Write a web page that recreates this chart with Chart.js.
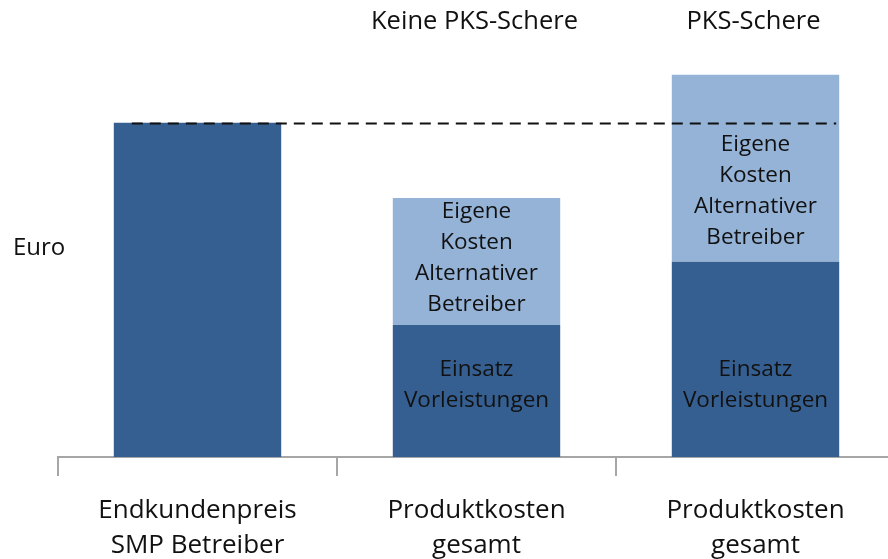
<!DOCTYPE html>
<html>
<head>
<meta charset="utf-8">
<script src="https://cdn.jsdelivr.net/npm/chart.js@4/dist/chart.umd.min.js"></script>
<style>
  html, body { margin: 0; padding: 0; background: #fff; overflow: hidden; }
  #wrap { width: 888px; height: 559px; overflow: hidden; }
</style>
</head>
<body>
<div id="wrap"><canvas id="ctx" width="900" height="559"></canvas></div>
<script>
const categories = [
  ['Endkundenpreis', 'SMP Betreiber'],
  ['Produktkosten', 'gesamt'],
  ['Produktkosten', 'gesamt'],
];
const columnTitles = ['', 'Keine PKS-Schere', 'PKS-Schere'];
const vorleistungen = [100, 39.5, 58.4];
const eigeneKosten = [0, 38.0, 56.0];
const vorleistungenText = ['', 'Einsatz\nVorleistungen', 'Einsatz\nVorleistungen'];
const eigeneKostenText = ['', 'Eigene\nKosten\nAlternativer\nBetreiber', 'Eigene\nKosten\nAlternativer\nBetreiber'];
// Mittelpunkt der Beschriftung (Werteinheiten)
const vorleistungenTextAt = [null, 21.5, 21.5];
const eigeneKostenTextAt = [null, 59.5, 79.6];
const endkundenpreis = vorleistungen[0];

const FONT = '"Open Sans", "Noto Sans", sans-serif';
const DARK = '#365F91';
const LIGHT = '#95B3D7';

const overlay = {
  id: 'overlay',
  afterDatasetsDraw(chart) {
    const { ctx, scales } = chart;
    const y = scales.y;
    const bars0 = chart.getDatasetMeta(0).data;
    const bars1 = chart.getDatasetMeta(1).data;

    // Referenzlinie Endkundenpreis
    const ly = Math.round(y.getPixelForValue(endkundenpreis)) + 0.5;
    const x0 = bars0[0].x - bars0[0].width / 2 + 18;
    const x1 = bars0[2].x + bars0[2].width / 2 - 3;
    ctx.save();
    ctx.strokeStyle = '#111';
    ctx.lineWidth = 2;
    ctx.setLineDash([11, 7]);
    ctx.beginPath();
    ctx.moveTo(x0, ly);
    ctx.lineTo(x1, ly);
    ctx.stroke();
    ctx.restore();

    // Texte in den Balken
    ctx.save();
    ctx.fillStyle = '#111';
    ctx.font = '22.5px ' + FONT;
    ctx.textAlign = 'center';
    ctx.textBaseline = 'middle';
    const lh = 31;
    const drawBlock = (text, cx, cy) => {
      const lines = text.split('\n');
      lines.forEach((l, i) => {
        ctx.fillText(l, cx, cy + (i - (lines.length - 1) / 2) * lh);
      });
    };
    for (let i = 0; i < categories.length; i++) {
      if (vorleistungenText[i]) drawBlock(vorleistungenText[i], bars0[i].x, y.getPixelForValue(vorleistungenTextAt[i]));
      if (eigeneKostenText[i]) drawBlock(eigeneKostenText[i], bars1[i].x, y.getPixelForValue(eigeneKostenTextAt[i]));
    }

    // Spaltenüberschriften
    ctx.font = '25.5px ' + FONT;
    columnTitles.forEach((t, i) => {
      if (t) ctx.fillText(t, bars0[i].x - 2, 22);
    });

    // Achsentitel
    ctx.textAlign = 'left';
    ctx.font = '24px ' + FONT;
    ctx.fillText('Euro', 13, 248);
    ctx.restore();
  }
};

new Chart(document.getElementById('ctx').getContext('2d'), {
  type: 'bar',
  data: {
    labels: categories,
    datasets: [
      { label: 'Einsatz Vorleistungen', data: vorleistungen, backgroundColor: DARK, barPercentage: 1, categoryPercentage: 0.6 },
      { label: 'Eigene Kosten', data: eigeneKosten, backgroundColor: LIGHT, barPercentage: 1, categoryPercentage: 0.6 },
    ],
  },
  options: {
    responsive: false,
    animation: false,
    layout: { padding: { left: 58, right: 5, top: 56, bottom: 0 } },
    plugins: {
      legend: { display: false },
      tooltip: { enabled: false },
    },
    scales: {
      x: {
        stacked: true,
        afterFit(scale) { scale.height = 102; },
        grid: { drawOnChartArea: false, drawTicks: true, tickLength: 19, color: '#a6a6a6', lineWidth: 2 },
        border: { display: true, color: '#a6a6a6', width: 2 },
        ticks: {
          color: '#111',
          padding: 17,
          font: { family: FONT, size: 26, lineHeight: 1.35 },
          maxRotation: 0,
        },
      },
      y: {
        stacked: true,
        display: false,
        min: 0,
        max: 120,
      },
    },
  },
  plugins: [overlay],
});
</script>
</body>
</html>
